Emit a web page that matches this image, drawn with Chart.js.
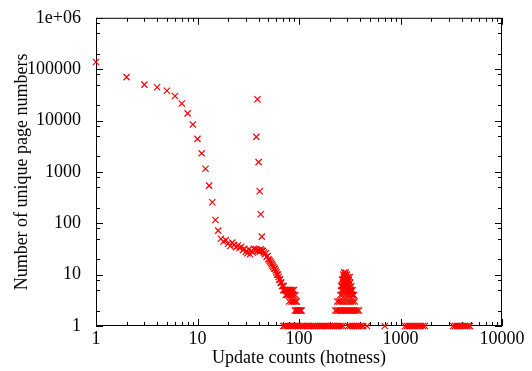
<!DOCTYPE html>
<html>
<head>
<meta charset="utf-8">
<script src="https://cdn.jsdelivr.net/npm/chart.js@4.4.0/dist/chart.umd.min.js"></script>
<style>
  html, body { margin: 0; padding: 0; background: #fff; }
  #wrap { width: 532px; height: 371px; }
</style>
</head>
<body>
<div id="wrap"><canvas id="hotChart" width="532" height="371"></canvas></div>
<script>
// head of the distribution: update count -> number of pages
const headX = [1, 2, 3, 4, 5, 6, 7, 8, 9, 10, 11, 12, 13, 14, 15, 16];
const headY = [138000, 70000, 50000, 44500, 38000, 30000, 21500, 13800, 8400, 4400, 2300, 1150, 540, 257, 116, 72];

// flat band 17..43
const bandX = [17, 18, 19, 20, 21, 22, 23, 24, 25, 26, 27, 28, 29, 30, 31, 32, 33, 34, 35, 36, 37, 38, 39, 40, 41, 42, 43];
const bandY = [50, 44, 47, 40, 36, 42, 38, 34, 37, 33, 35, 30, 32, 28, 26, 31, 25, 29, 27, 32, 30, 31, 29, 30, 28, 31, 29];

// second branch around 40 updates
const echoX = [39, 38, 40, 41, 42, 43];
const echoY = [26000, 4800, 1550, 420, 150, 55];

// tail 44..106
const tailX = [44, 45, 46, 47, 48, 49, 50, 51, 52, 53, 54, 55, 56, 57, 58, 59, 60, 61, 62, 63, 64, 65, 66, 67, 68, 69, 70,
  71, 72, 73, 74, 75, 76, 77, 78, 79, 80, 81, 82, 83, 84, 85, 86, 87, 88, 89, 90, 91, 92, 93, 94, 95, 96, 97, 98, 100, 102, 104, 106];
const tailY = [29, 27, 25, 26, 22, 23, 20, 19, 18, 17, 16, 15, 14, 13, 13, 12, 11, 10, 10, 9, 8, 8, 7, 7, 6, 6, 5,
  6, 5, 5, 4, 5, 4, 5, 5, 4, 3, 5, 4, 5, 3, 4, 5, 3, 4, 5, 3, 2, 4, 3, 2, 3, 2, 2, 2, 2, 2, 2, 2];

// spike around 250..400 updates
const spikeX = [228, 236, 244, 252, 262, 272, 282, 292, 302, 314, 326, 338, 350, 362, 376, 390,
  238, 248, 258, 270, 282, 296, 310, 325, 340, 355,
  256, 260, 263, 266, 268, 271, 273, 275, 277, 279, 281, 283, 285, 287, 289, 291, 293, 295, 297, 300,
  303, 306, 309, 312, 316, 320, 324, 328, 332, 337, 342, 348, 265, 270, 278, 286, 294, 302, 314, 318, 290, 284, 276, 298];
const spikeY = [2, 2, 2, 2, 2, 2, 2, 2, 2, 2, 2, 2, 2, 2, 2, 2,
  3, 3, 3, 3, 3, 3, 3, 3, 3, 3,
  4, 6, 5, 8, 4, 7, 10, 6, 9, 11, 5, 8, 10, 7, 11, 9, 6, 8, 10, 7,
  9, 5, 8, 6, 9, 7, 5, 6, 4, 5, 4, 4, 6, 5, 7, 4, 5, 4, 4, 5, 8, 6, 8, 6];

// pages seen exactly once per count
const floorX = [70, 72, 75, 78, 81, 84, 87, 90, 94, 98, 102, 106, 110, 115, 120, 125, 130, 136, 142, 148, 155, 162, 169, 176,
  184, 192, 200, 209, 218, 228, 238, 248, 259, 270, 305, 318, 332, 346, 361, 377, 393, 410, 428, 467, 700,
  1110, 1160, 1210, 1260, 1320, 1380, 1440, 1510, 1580, 1660, 1740, 3300, 3450, 3600, 3760, 3930, 4100, 4280, 4470, 4660, 4840];
const floorY = [1, 1, 1, 1, 1, 1, 1, 1, 1, 1, 1, 1, 1, 1, 1, 1, 1, 1, 1, 1, 1, 1, 1, 1,
  1, 1, 1, 1, 1, 1, 1, 1, 1, 1, 1, 1, 1, 1, 1, 1, 1, 1, 1, 1, 1,
  1, 1, 1, 1, 1, 1, 1, 1, 1, 1, 1, 1, 1, 1, 1, 1, 1, 1, 1, 1, 1];

// axes
const xTicks = [1, 10, 100, 1000, 10000];
const xTickLabels = ['1', '10', '100', '1000', '10000'];
const yTicks = [1, 10, 100, 1000, 10000, 100000, 1000000];
const yTickLabels = ['1', '10', '100', '1000', '10000', '100000', '1e+06'];
const xMinorSteps = [2, 3, 4, 5, 6, 7, 8, 9];
const yMinorSteps = [2, 5, 8];

function pairs(xs, ys) {
  return xs.map((x, i) => ({ x: x, y: ys[i] }));
}

const points = [].concat(
  pairs(headX, headY), pairs(bandX, bandY), pairs(echoX, echoY),
  pairs(tailX, tailY), pairs(spikeX, spikeY), pairs(floorX, floorY)
);

const FONT = { family: "'Liberation Serif', 'DejaVu Serif', serif", size: 18 };

// gnuplot-like box with inward ticks on all four sides
const boxTicks = {
  id: 'boxTicks',
  beforeDatasetsDraw(chart) {
    const { ctx, chartArea: a, scales: { x, y } } = chart;
    ctx.save();
    ctx.strokeStyle = '#000';
    ctx.lineWidth = 1;
    ctx.beginPath();
    const xt = (v, len) => {
      const px = Math.round(x.getPixelForValue(v)) + 0.5;
      ctx.moveTo(px, a.bottom); ctx.lineTo(px, a.bottom - len);
      ctx.moveTo(px, a.top); ctx.lineTo(px, a.top + len);
    };
    const yt = (v, len) => {
      const py = Math.round(y.getPixelForValue(v)) + 0.5;
      ctx.moveTo(a.left, py); ctx.lineTo(a.left + len, py);
      ctx.moveTo(a.right, py); ctx.lineTo(a.right - len, py);
    };
    xTicks.forEach((v, i) => {
      xt(v, 7);
      if (i < xTicks.length - 1) xMinorSteps.forEach(m => xt(v * m, 4));
    });
    yTicks.forEach((v, i) => {
      yt(v, 7);
      if (i < yTicks.length - 1) yMinorSteps.forEach(m => yt(v * m, 4));
    });
    ctx.stroke();
    ctx.strokeRect(a.left + 0.5, a.top + 0.5, a.right - a.left - 1, a.bottom - a.top - 1);
    ctx.restore();
  }
};

new Chart(document.getElementById('hotChart'), {
  type: 'scatter',
  data: {
    datasets: [{
      data: points,
      pointStyle: 'crossRot',
      pointRadius: 4.4,
      borderWidth: 1.2,
      borderColor: '#ff0000',
      backgroundColor: '#ff0000',
      clip: false
    }]
  },
  options: {
    responsive: false,
    animation: false,
    devicePixelRatio: 1,
    layout: { padding: { top: 14, right: 30, bottom: 0, left: 0 } },
    plugins: { legend: { display: false }, tooltip: { enabled: false } },
    scales: {
      x: {
        type: 'logarithmic',
        min: 1,
        max: 10000,
        grid: { display: false },
        border: { display: false },
        afterBuildTicks: s => { s.ticks = xTicks.map(v => ({ value: v })); },
        afterFit: s => { s.height = 45; },
        ticks: {
          autoSkip: false, maxRotation: 0, padding: -6, color: '#000', font: FONT,
          callback: (v, i) => xTickLabels[i]
        },
        title: { display: true, text: 'Update counts (hotness)', color: '#000', font: FONT, padding: { top: 0, bottom: 2 } }
      },
      y: {
        type: 'logarithmic',
        min: 1,
        max: 1000000,
        grid: { display: false },
        border: { display: false },
        afterBuildTicks: s => { s.ticks = yTicks.map(v => ({ value: v })); },
        afterFit: s => { s.width = 96; },
        ticks: {
          autoSkip: false, padding: 7, color: '#000', font: FONT,
          callback: (v, i) => yTickLabels[i]
        },
        title: { display: true, text: 'Number of unique page numbers', color: '#000', font: FONT, padding: { top: 11, bottom: 0 } }
      }
    }
  },
  plugins: [boxTicks]
});
</script>
</body>
</html>
